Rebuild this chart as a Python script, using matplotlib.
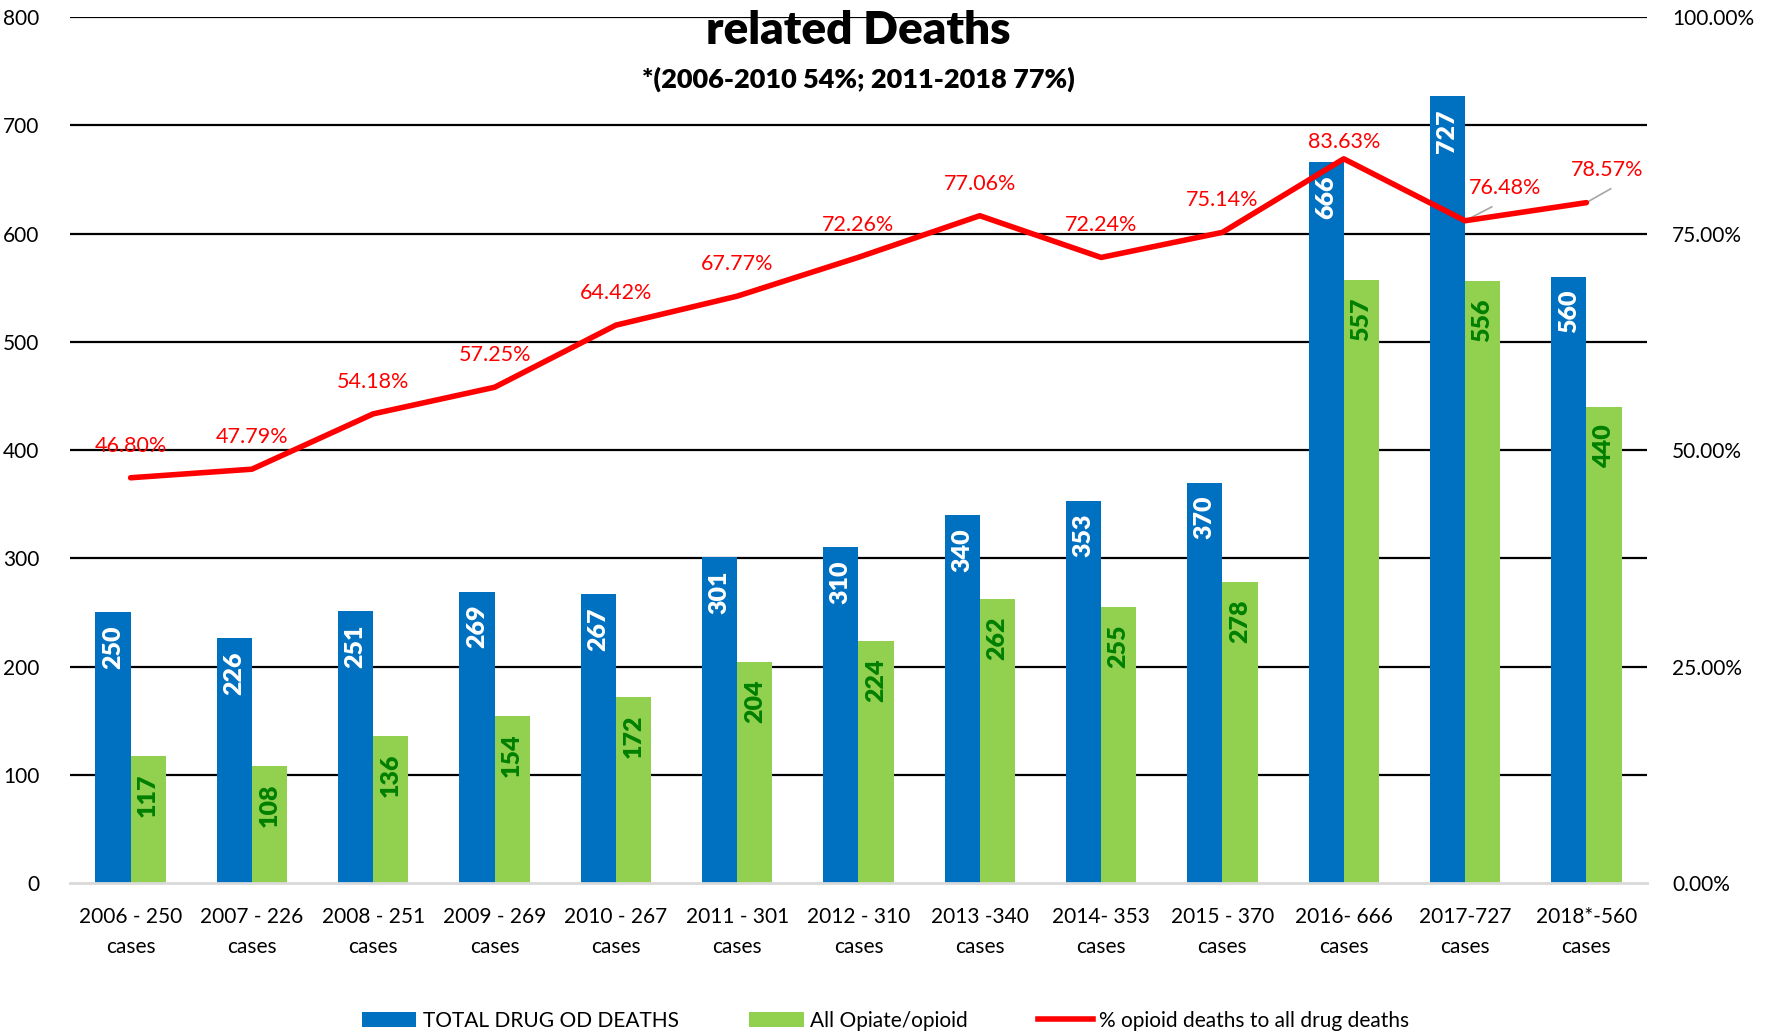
import matplotlib
matplotlib.use("Agg")
import matplotlib.pyplot as plt
from matplotlib.patches import Patch
from matplotlib.lines import Line2D
import numpy as np

plt.rcParams['font.family'] = ['Lato', 'DejaVu Sans']

categories = ["2006 - 250\ncases", "2007 - 226\ncases", "2008 - 251\ncases", "2009 - 269\ncases",
              "2010 - 267\ncases", "2011 - 301\ncases", "2012 - 310\ncases", "2013 -340\ncases",
              "2014- 353\ncases", "2015 - 370\ncases", "2016- 666\ncases", "2017-727\ncases",
              "2018*-560\ncases"]
total_deaths = [250, 226, 251, 269, 267, 301, 310, 340, 353, 370, 666, 727, 560]
opioid_deaths = [117, 108, 136, 154, 172, 204, 224, 262, 255, 278, 557, 556, 440]
pct_opioid = [46.80, 47.79, 54.18, 57.25, 64.42, 67.77, 72.26, 77.06, 72.24, 75.14, 83.63, 76.48, 78.57]
left_ticks = [0, 100, 200, 300, 400, 500, 600, 700, 800]
right_ticks = [0, 25, 50, 75, 100]

BLUE = "#0070C0"
GREEN = "#92D050"
RED = "#FF0000"
DKGREEN = "#008000"

fig = plt.figure(figsize=(17.71, 10.34), dpi=100)
ax = fig.add_axes([0.0395, 0.146, 0.8905, 0.8375])
x = np.arange(len(categories))
w = 0.29

ax.set_axisbelow(True)
for t in left_ticks[1:]:
    ax.axhline(t, color="black", lw=1.6, zorder=0)
ax.bar(x - w/2, total_deaths, w, color=BLUE, zorder=2)
ax.bar(x + w/2, opioid_deaths, w, color=GREEN, zorder=2)

ax.set_xlim(-0.5, len(categories) - 0.5)
ax.set_ylim(0, 800)
ax.set_yticks(left_ticks)
ax.set_yticklabels([str(t) for t in left_ticks], fontsize=15)
ax.set_xticks(x)
ax.set_xticklabels(categories, fontsize=15, linespacing=1.65)
ax.tick_params(axis='both', length=0)
ax.tick_params(axis='x', pad=17)
ax.tick_params(axis='y', pad=22)
for s in ["top", "right", "left"]:
    ax.spines[s].set_visible(False)
ax.spines["bottom"].set_color("#D9D9D9")
ax.spines["bottom"].set_linewidth(2)

for xi, v in zip(x, total_deaths):
    ax.text(xi - w/2, v - 12, str(v), rotation=90, ha="center", va="top",
            color="white", fontsize=18, fontweight="heavy", zorder=3)
for xi, v in zip(x, opioid_deaths):
    ax.text(xi + w/2, v - 16, str(v), rotation=90, ha="center", va="top",
            color=DKGREEN, fontsize=18, fontweight="heavy", zorder=3)

ax2 = ax.twinx()
ax2.set_ylim(0, 100)
ax2.set_yticks(right_ticks)
ax2.set_yticklabels(["%.2f%%" % t for t in right_ticks], fontsize=15)
ax2.tick_params(axis='y', length=0, pad=18)
for s in ["top", "right", "left", "bottom"]:
    ax2.spines[s].set_visible(False)
ax2.plot(x, pct_opioid, color=RED, lw=4, solid_capstyle="round", zorder=4)

for i, (xi, p) in enumerate(zip(x, pct_opioid)):
    if i == 11:
        ax2.plot([xi, xi + 0.22], [p, p + 1.6], color="#A6A6A6", lw=1.2, zorder=3)
        ax2.text(xi + 0.33, p + 3.8, "%.2f%%" % p, ha="center", va="center",
                 color=RED, fontsize=15.5)
    elif i == 12:
        ax2.plot([xi, xi + 0.2], [p, p + 1.6], color="#A6A6A6", lw=1.2, zorder=3)
        ax2.text(xi + 0.17, p + 3.8, "%.2f%%" % p, ha="center", va="center",
                 color=RED, fontsize=15.5)
    else:
        off = 3.7 if i != 10 else 2.0
        ax2.text(xi, p + off, "%.2f%%" % p, ha="center", va="center",
                 color=RED, fontsize=15.5)

ax.text(0.5, 0.985, "related Deaths", transform=ax.transAxes, ha="center", va="center",
        fontsize=33, fontweight="heavy", zorder=5)
ax.text(0.5, 0.928, "*(2006-2010 54%; 2011-2018 77%)", transform=ax.transAxes, ha="center",
        va="center", fontsize=19.5, fontweight="heavy", zorder=5)

handles = [Patch(facecolor=BLUE), Patch(facecolor=GREEN), Line2D([0], [0], color=RED, lw=4)]
labels = ["TOTAL DRUG OD DEATHS", "All Opiate/opioid", "% opioid deaths to all drug deaths"]
fig.legend(handles, labels, loc="center", bbox_to_anchor=(0.5, 0.013), ncol=3, frameon=False,
           fontsize=15, handlelength=2.6, handleheight=0.7, handletextpad=0.3, columnspacing=3.4)

fig.savefig("out.png", dpi=100)
